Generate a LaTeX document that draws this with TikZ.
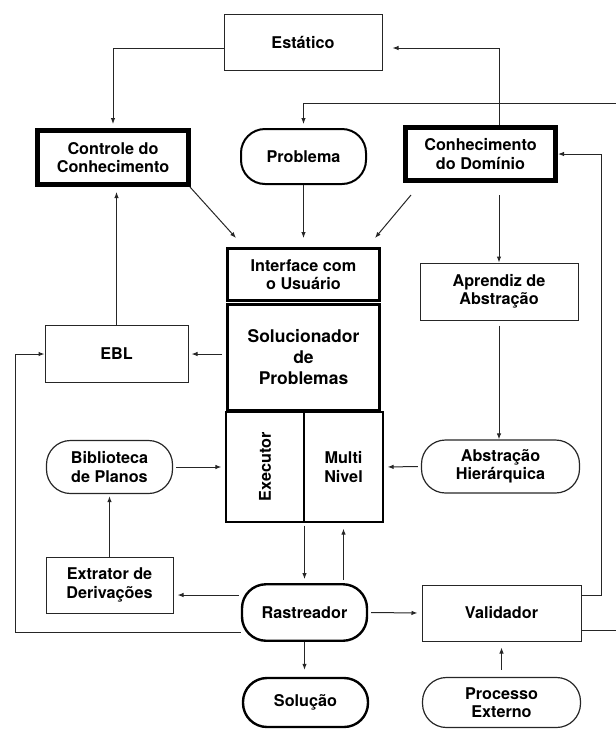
\documentclass[tikz,border=0pt]{standalone}
\usepackage{fontspec}
\setmainfont{TeX Gyre Heros}
\usetikzlibrary{arrows.meta}

\begin{document}
\begin{tikzpicture}[
    x=1pt, y=-1pt,
    font=\bfseries\fontsize{16.2}{18.5}\selectfont,
    box/.style={draw=black!85, line width=1pt, minimum width=158pt, minimum height=56pt, align=center, inner sep=2pt},
    heavy/.style={box, draw=black, line width=5pt, minimum width=151pt, minimum height=54pt},
    core/.style={box, draw=black, line width=3pt, minimum width=152pt},
    pill/.style={box, rounded corners=24pt, line width=1.2pt},
    boldpill/.style={pill, draw=black, line width=2.4pt, minimum width=125pt},
    arr/.style={-{Latex[length=6pt, width=4.5pt]}, line width=1pt, black!85},
    wire/.style={line width=1pt, black!85},
]
\useasboundingbox (0,0) rectangle (616,729);

% Top row
\node[box] (estatico) at (303,42) {Estático};
\node[heavy] (controle) at (113,157.5) {Controle do\\Conhecimento};
\node[boldpill, line width=2pt, minimum height=55pt] (problema) at (303.5,156.5) {Problema};
\node[heavy, minimum width=150pt, minimum height=53pt] (conhec) at (480.5,154) {Conhecimento\\do Domínio};

% Central column
\node[core, minimum height=52pt] (interface) at (303.5,274.5) {Interface com\\o Usuário};
\node[core, minimum height=106pt, font=\bfseries\fontsize{17.5}{21}\selectfont] (solucionador) at (303.5,357.5) {Solucionador\\de\\Problemas};
\node[box, draw=black, line width=1.2pt, minimum width=78pt, minimum height=110pt] (executor) at (265,467) {\rotatebox{90}{Executor}};
\node[box, draw=black, line width=1.2pt, minimum width=79pt, minimum height=110pt] (multi) at (343.5,467) {Multi\\Nivel};

% Left side
\node[box, minimum width=143pt, minimum height=57pt] (ebl) at (116.5,354) {EBL};
\node[pill, minimum width=126pt, minimum height=53pt] (biblioteca) at (109.5,467) {Biblioteca\\de Planos};
\node[box, minimum width=127pt] (extrator) at (109.5,585) {Extrator de\\Derivações};

% Right side
\node[box, minimum height=57pt] (aprendiz) at (499,291.5) {Aprendiz de\\Abstração};
\node[pill, minimum width=158pt, minimum height=53pt] (abstracao) at (500.5,466.5) {Abstração\\Hierárquica};
\node[box, minimum width=159pt] (validador) at (501.5,613) {Validador};

% Bottom row
\node[boldpill, minimum height=56.5pt] (rastreador) at (304.5,612.5) {Rastreador};
\node[boldpill, minimum height=49pt] (solucao) at (305.5,702.5) {Solução};
\node[pill, minimum width=158pt, minimum height=50pt] (processo) at (501.5,702.5) {Processo\\Externo};

% Free ends at the right border
\coordinate (inR) at (616,103);
\coordinate (outR) at (616,630);
\coordinate (rw) at ([yshift=17.5pt]rastreador.west);

% Arrows
\draw[arr, shorten >=4pt] ([yshift=-6pt]estatico.west) -| (controle.north);
\draw[arr, shorten >=10pt] (conhec.north -| aprendiz) |- ([yshift=-6pt]estatico.east);
\draw[arr, shorten >=4pt] (inR) -| (problema.north);
\draw[arr] ([xshift=-1pt]controle.south east) -- ([shift={(10pt,9pt)}]interface.north west);
\draw[arr] (problema.south) -- ([yshift=9pt]interface.north);
\draw[arr] ([shift={(8pt,-12pt)}]conhec.south west) -- ([shift={(-6pt,9pt)}]interface.north east);
\draw[arr, shorten <=12pt] (conhec.south -| aprendiz) -- (aprendiz.north);
\draw[arr, shorten <=5pt] (aprendiz.south) -- (aprendiz.south |- abstracao.north);
\draw[arr, shorten >=5pt] (ebl.north) -- (ebl.north |- controle.south);
\draw[arr, shorten <=4pt, shorten >=3pt] (solucionador.west |- ebl.east) -- (ebl.east);
\draw[arr] ([yshift=-20pt]rastreador.west) -| ([xshift=-29pt]ebl.west) -- (ebl.west);
\draw[arr, shorten <=3pt, shorten >=4pt] (biblioteca.east) -- (executor.west);
\draw[arr, shorten <=3pt, shorten >=4pt] (abstracao.west) -- (multi.east);
\draw[arr, shorten >=2pt] (extrator.north) -- (biblioteca.south);
\draw[arr, shorten <=3pt, shorten >=4pt] (rastreador.north |- executor.south) -- (rastreador.north);
\draw[arr, shorten <=3pt, shorten >=6pt] (multi.south |- rastreador.north) -- (multi.south);
\draw[arr, shorten <=2pt, shorten >=4pt] (rw) -- (rw -| extrator.east);
\draw[arr, shorten <=3pt, shorten >=4pt] (rastreador.east) -- (validador.west);
\draw[arr, shorten >=7pt] (rastreador.south) -- (rastreador.south |- solucao.north);
\draw[arr, shorten <=7pt, shorten >=6pt] (processo.north) -- (validador.south);
\draw[arr] ([yshift=18pt]validador.east) -- ++(20,0) |- (conhec.east);
\draw[wire] ([yshift=-17pt]validador.east) -- (outR);

\end{tikzpicture}
\end{document}
